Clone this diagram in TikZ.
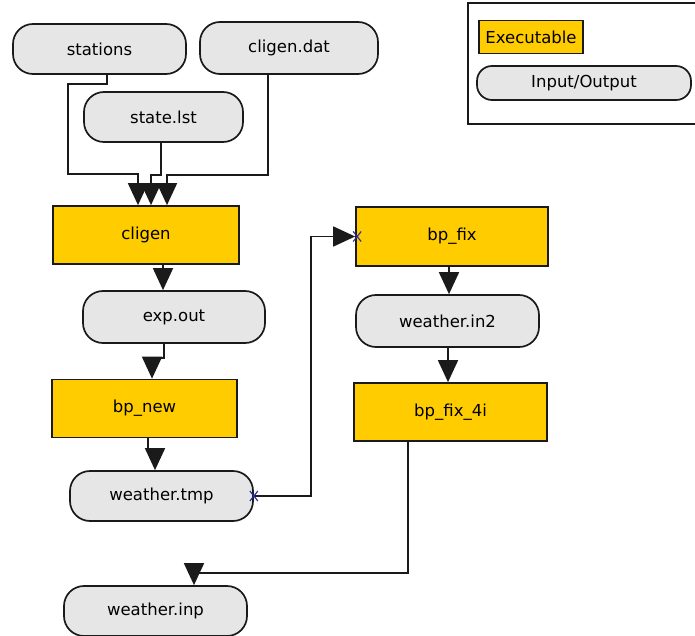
\documentclass[tikz,border=0pt]{standalone}
\usepackage{fontspec}
\setmainfont{DejaVu Sans}
\usetikzlibrary{arrows.meta,calc}
\definecolor{exefill}{HTML}{FFCC00}
\definecolor{iofill}{HTML}{E6E6E6}
\definecolor{edgeclr}{HTML}{1A1A1A}
\definecolor{xblue}{HTML}{2A2AA0}
\tikzset{
  base/.style={draw=edgeclr, line width=1.7pt, inner sep=0pt,
    font=\fontsize{16.5}{19}\selectfont},
  exe/.style={base, rectangle, fill=exefill},
  io/.style={base, rectangle, rounded corners=20pt, fill=iofill},
  conn/.style={draw=edgeclr, line width=1.7pt,
    -{Triangle[length=22pt,width=20pt]}},
  xcross/.pic={\draw[xblue, line width=1.1pt] (-4,-5) -- (4,5) (-4,5) -- (4,-5);}
}
\begin{document}
\begin{tikzpicture}[x=1pt,y=-1pt]
  \clip (0,0) rectangle (695,636);
  \fill[white] (0,0) rectangle (695,636);

  % inputs
  \node[io, minimum width=173pt, minimum height=50pt] (stations)  at (99.5,49)  {stations};
  \node[io, minimum width=178pt, minimum height=52pt] (cligendat) at (289,48)   {cligen.dat};
  \node[io, minimum width=159pt, minimum height=50pt] (statelst)  at (163.5,117) {state.lst};

  % processing chain
  \node[exe, minimum width=186pt, minimum height=58pt] (cligen)     at (146,235)   {cligen};
  \node[io,  minimum width=182pt, minimum height=52pt] (expout)     at (174,317)   {exp.out};
  \node[exe, minimum width=185pt, minimum height=58pt] (bpnew)      at (144.5,408.5) {bp\_new};
  \node[io,  minimum width=183pt, minimum height=50pt] (weathertmp) at (161.5,496) {weather.tmp};
  \node[exe, minimum width=192pt, minimum height=59pt] (bpfix)      at (452,236.5) {bp\_fix};
  \node[io,  minimum width=183pt, minimum height=52pt] (weatherin2) at (447.5,321) {weather.in2};
  \node[exe, minimum width=193pt, minimum height=58pt] (bpfixfouri) at (450.5,412) {bp\_fix\_4i};
  \node[io,  minimum width=183pt, minimum height=50pt] (weatherinp) at (155.5,611) {weather.inp};

  % connectors
  \draw[conn] ($(stations.south)+(7.5,0)$) -- ++(0,9) -| (68,174) -| ($(cligen.north)+(-8,0)$);
  \draw[conn] ($(statelst.south)+(-2.5,0)$) -- ++(0,32) -| ($(cligen.north)+(5,0)$);
  \draw[conn] ($(cligendat.south)+(-21,0)$) -- ++(0,100) -| ($(cligen.north)+(21,0)$);
  \draw[conn] ($(cligen.south)+(17,0)$) -- ($(expout.north)+(-11,0)$);
  \draw[conn] ($(expout.south)+(-10,0)$) -- ++(0,14) -| ($(bpnew.north)+(7.5,0)$);
  \draw[conn] ($(bpnew.south)+(3.5,0)$) -- ++(0,11) -| ($(weathertmp.north)+(-6.5,0)$);
  \draw[conn] (weathertmp.east) -- ++(57,0) |- (bpfix.west);
  \draw[conn] ($(bpfix.south)+(-3,0)$) -- ($(weatherin2.north)+(1.5,0)$);
  \draw[conn] ($(weatherin2.south)+(0.5,0)$) -- ($(bpfixfouri.north)+(-2.5,0)$);
  \draw[conn] ($(bpfixfouri.south)+(-42.5,0)$) -- ++(0,131) -| ($(weatherinp.north)+(38.5,0)$);

  % connection markers
  \pic at (weathertmp.east) {xcross};
  \pic at ($(bpfix.west)+(2,0)$) {xcross};

  % legend
  \draw[edgeclr, line width=1.7pt] (468,3) rectangle (700,124);
  \node[exe, minimum width=104pt, minimum height=33pt] (legexe) at (531,37) {Executable};
  \node[io, rounded corners=15pt, minimum width=214pt, minimum height=34pt] (legio) at (584,83) {Input/Output};
\end{tikzpicture}
\end{document}
